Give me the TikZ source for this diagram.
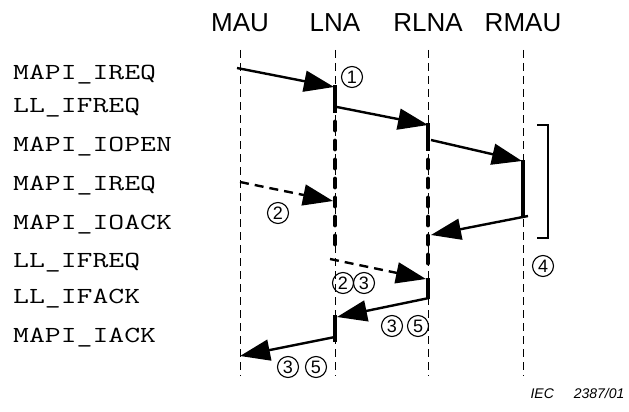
\documentclass[tikz,border=0pt]{standalone}
\usepackage{fontspec}
\usepackage{graphicx}
\setmainfont{Liberation Sans}
\usetikzlibrary{arrows.meta}

\newcommand{\wideprim}[1]{\scalebox{1.34}[1]{#1}}

\tikzstyle{actor} = [
font=\fontsize{26}{28}\selectfont,
inner sep=0pt
]
\tikzstyle{primitive} = [
font=\ttfamily\fontsize{23}{25}\selectfont,
anchor=west,
inner sep=0pt
]
\tikzstyle{lifeline} = [
line width=0.9pt,
dash pattern=on 8pt off 5pt
]
\tikzstyle{busy} = [line width=4.5pt]
\tikzstyle{waiting} = [
line width=4.8pt,
line cap=round,
dash pattern=on 8pt off 11pt
]
\tikzstyle{msg}=[line width=2.4pt,-{Triangle[length=30pt,width=21pt]}]
\tikzstyle{msgdash}=[msg,dash pattern=on 9pt off 6pt]
\tikzstyle{numtag} = [
circle,
draw,
line width=1.1pt,
inner sep=0pt,
minimum size=21pt,
font=\fontsize{18}{18}\selectfont
]

\begin{document}
\begin{tikzpicture}[x=1pt,y=-1pt]
        \useasboundingbox (0,0) rectangle (629,412);

        % stations
        \node(mau)[actor] at (240,23) {MAU};
        \node(lna)[actor] at (335,23) {LNA};
        \node(rlna)[actor] at (428,23) {RLNA};
        \node(rmau)[actor] at (523,23) {RMAU};

        \draw[lifeline] (mau |- 0,50) -- (mau |- 0,376);
        \draw[lifeline] (lna |- 0,50) -- (lna |- 0,376);
        \draw[lifeline] (rlna |- 0,50) -- (rlna |- 0,376);
        \draw[lifeline] (rmau |- 0,50) -- (rmau |- 0,376);

        % primitives
        \node(p1)[primitive] at (13,75) {\wideprim{MAPI\_IREQ}};
        \node(p2)[primitive] at (13,108) {\wideprim{LL\_IFREQ}};
        \node(p3)[primitive] at (13,147) {\wideprim{MAPI\_IOPEN}};
        \node(p4)[primitive] at (13,186) {\wideprim{MAPI\_IREQ}};
        \node(p5)[primitive] at (13,225) {\wideprim{MAPI\_IOACK}};
        \node(p6)[primitive] at (13,263) {\wideprim{LL\_IFREQ}};
        \node(p7)[primitive] at (13,299) {\wideprim{LL\_IFACK}};
        \node(p8)[primitive] at (13,338) {\wideprim{MAPI\_IACK}};

        % activity on the lifelines
        \draw[busy] (lna |- 0,85) -- (lna |- 0,113);
        \draw[waiting] (lna |- 0,122) -- (lna |- 0,252);
        \draw[busy] (lna |- 0,315) -- (lna |- 0,342);
        \draw[busy] (rlna |- 0,123) -- (rlna |- 0,151);
        \draw[waiting] (rlna |- 0,160) -- (rlna |- 0,268);
        \draw[busy] (rlna |- 0,278) -- (rlna |- 0,299);
        \draw[busy] (rmau |- 0,160) -- (rmau |- 0,218);

        % messages
        \coordinate(s1) at (237,68);   \coordinate(e1) at (334,87);
        \coordinate(s2) at (337,107);  \coordinate(e2) at (428,125);
        \coordinate(s3) at (431,140);  \coordinate(e3) at (522,161);
        \coordinate(s4) at (528,216);  \coordinate(e4) at (431,235);
        \coordinate(s5) at (240,182);  \coordinate(e5) at (333,201);
        \coordinate(s6) at (330,259);  \coordinate(e6) at (426,279);
        \coordinate(s7) at (429,298);  \coordinate(e7) at (337,317);
        \coordinate(s8) at (335,337);  \coordinate(e8) at (240,356);

        \draw[msg] (s1) -- (e1);
        \draw[msg] (s2) -- (e2);
        \draw[msg] (s3) -- (e3);
        \draw[msg] (s4) -- (e4);
        \draw[msgdash] (s5) -- (e5);
        \draw[msgdash] (s6) -- (e6);
        \draw[msg] (s7) -- (e7);
        \draw[msg] (s8) -- (e8);

        % bracket
        \draw[line width=1.2pt] (537,125) -- (548,125) -- (548,238) -- (537,238);

        % notes
        \node(n1)[numtag] at (352,77) {1};
        \node(n2)[numtag] at (278,213) {2};
        \node(n3)[numtag] at (343,283) {2};
        \node(n4)[numtag] at (364,283) {3};
        \node(n5)[numtag] at (392,326) {3};
        \node(n6)[numtag] at (418,326) {5};
        \node(n7)[numtag] at (288,367) {3};
        \node(n8)[numtag] at (316,367) {5};
        \node(n9)[numtag] at (543,266) {4};

        \node(iec)[anchor=east,font=\itshape\fontsize{14}{14}\selectfont] at (628,393) {IEC\hspace{20pt}2387/01};

\end{tikzpicture}
\end{document}
